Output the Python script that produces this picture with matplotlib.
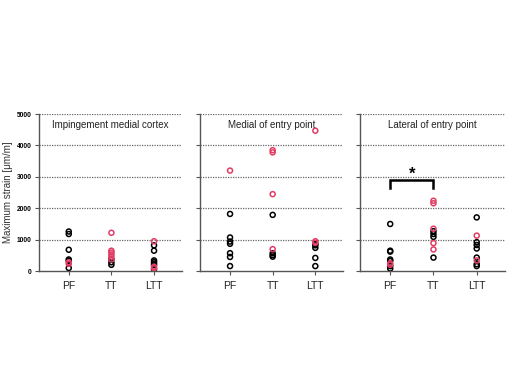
import matplotlib.pyplot as plt

plt.rcParams['font.family'] = ['Liberation Sans', 'DejaVu Sans']

groups = ["PF", "TT", "LTT"]
titles = ["Impingement medial cortex", "Medial of entry point", "Lateral of entry point"]

# black and red values per panel, per group (µm/m)
black = [
    [[1260, 1180, 680, 370, 330, 100], [380, 280, 200], [820, 650, 340, 290, 240, 190, 60]],
    [[1820, 1070, 940, 870, 570, 450, 160], [1790, 570, 510, 460], [870, 820, 740, 420, 160]],
    [[1500, 650, 620, 370, 320, 160, 80], [1270, 1180, 1090, 430], [1710, 920, 830, 720, 430, 220, 160]],
]
red = [
    [[280, 230], [1220, 650, 590, 530, 460, 370], [950, 140, 90]],
    [[3200], [3850, 3780, 2450, 700], [4470, 950, 900]],
    [[250, 200], [2240, 2160, 1350, 890, 690], [1130, 340]],
]

# significance bracket (panel 3, PF vs TT)
sig_top = 2900
sig_leg = 2630
sig_star = 3080

yticks = [0, 1000, 2000, 3000, 4000, 5000]
red_col = "#e23c64"

fig = plt.figure(figsize=(5.12, 3.84), dpi=100)
lefts = [0.076, 0.391, 0.703]
widths = [0.279, 0.279, 0.283]

for i in range(3):
    ax = fig.add_axes([lefts[i], 0.294, widths[i], 0.409])
    for yv in yticks[1:]:
        ax.axhline(yv, color="#666666", lw=0.9, ls=(0, (1, 1)), zorder=1)
    for j in range(3):
        ax.scatter([j] * len(black[i][j]), black[i][j], s=13, facecolors="none",
                   edgecolors="black", linewidths=1.1, zorder=3)
        ax.scatter([j] * len(red[i][j]), red[i][j], s=13, facecolors="none",
                   edgecolors=red_col, linewidths=1.1, zorder=4)
    ax.set_xlim(-0.7, 2.65)
    ax.set_ylim(0, 5000)
    ax.set_xticks(range(3))
    ax.set_xticklabels(groups, fontsize=7.5, color="#222222")
    ax.set_yticks(yticks)
    if i == 0:
        ax.set_yticklabels([str(v) for v in yticks], fontsize=4.8, fontweight="bold")
        ax.set_ylabel("Maximum strain [\u03bcm/m]", fontsize=7, color="#333333", labelpad=3)
    else:
        ax.set_yticklabels([])
    for s in ["top", "right"]:
        ax.spines[s].set_visible(False)
    for s in ["left", "bottom"]:
        ax.spines[s].set_color("#555555")
        ax.spines[s].set_linewidth(1.0)
    ax.tick_params(axis="both", length=3, width=0.8, color="#555555", pad=2)
    ax.tick_params(axis="x", pad=4)
    ax.text(0.5, 0.93, titles[i], transform=ax.transAxes, ha="center", va="center",
            fontsize=7, color="#222222")
    if i == 2:
        ax.plot([0, 0, 1, 1], [sig_leg, sig_top, sig_top, sig_leg], color="black",
                lw=1.8, solid_joinstyle="miter", zorder=5)
        ax.text(0.5, sig_star, "*", ha="center", va="center", fontsize=12,
                fontweight="bold", color="black")

fig.savefig("out.png", dpi=100)
